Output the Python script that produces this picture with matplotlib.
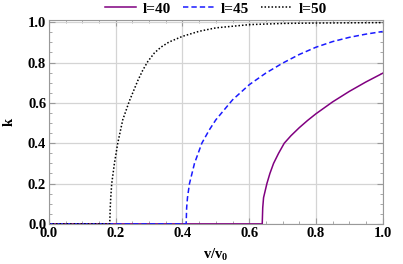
import numpy as np
import matplotlib
matplotlib.use("Agg")
import matplotlib.pyplot as plt
from matplotlib.ticker import MultipleLocator, FormatStrFormatter

# values
v_40 = [0, 0.639, 0.6405, 0.643, 0.653, 0.662, 0.673, 0.688, 0.705, 0.725, 0.75, 0.775,
        0.80, 0.85, 0.90, 0.95, 1.0]
k_40 = [0, 0, 0.08, 0.13, 0.20, 0.25, 0.30, 0.35, 0.40, 0.437, 0.477, 0.513,
        0.546, 0.605, 0.657, 0.704, 0.747]

v_45 = [0, 0.411, 0.4125, 0.415, 0.421, 0.436, 0.458, 0.48, 0.50, 0.55, 0.60, 0.65, 0.70,
        0.75, 0.80, 0.85, 0.90, 0.95, 1.0]
k_45 = [0, 0, 0.08, 0.13, 0.20, 0.30, 0.40, 0.465, 0.516, 0.615, 0.69, 0.748, 0.797,
        0.840, 0.876, 0.904, 0.925, 0.941, 0.954]

v_50 = [0, 0.182, 0.1835, 0.185, 0.188, 0.196, 0.206, 0.221, 0.241, 0.266, 0.281, 0.296,
        0.316, 0.336, 0.36, 0.40, 0.45, 0.50, 0.60, 0.70, 0.80, 0.90, 1.0]
k_50 = [0, 0, 0.08, 0.13, 0.20, 0.30, 0.40, 0.516, 0.61, 0.71, 0.762, 0.805,
        0.848, 0.877, 0.902, 0.93, 0.955, 0.972, 0.988, 0.994, 0.996, 0.997, 0.998]

labels = ["l=40", "l=45", "l=50"]

plt.rcParams["font.family"] = "Liberation Serif"
plt.rcParams["font.weight"] = "bold"
plt.rcParams["mathtext.fontset"] = "custom"
plt.rcParams["mathtext.rm"] = "Liberation Serif:bold"
plt.rcParams["mathtext.bf"] = "Liberation Serif:bold"
plt.rcParams["mathtext.it"] = "Liberation Serif:bold"

fig = plt.figure(figsize=(4.03, 2.64), dpi=100)
ax = fig.add_axes([0.1216, 0.152, 0.828, 0.773])

ax.plot(v_40, k_40, color="#800080", lw=1.1, ls="-", label=labels[0])
ax.plot(v_45, k_45, color="#1a1aff", lw=1.1, ls=(0, (3.5, 2)), label=labels[1])
ax.plot(v_50, k_50, color="black", lw=1.1, ls=(0, (1, 1.3)), label=labels[2])

ax.set_xlim(0, 1)
ax.set_ylim(0, 1.012)
ax.xaxis.set_major_locator(MultipleLocator(0.2))
ax.yaxis.set_major_locator(MultipleLocator(0.2))
ax.xaxis.set_minor_locator(MultipleLocator(0.05))
ax.yaxis.set_minor_locator(MultipleLocator(0.05))
ax.xaxis.set_major_formatter(FormatStrFormatter("%.1f"))
ax.yaxis.set_major_formatter(FormatStrFormatter("%.1f"))
ax.tick_params(which="both", direction="in", top=True, right=True, color="#999999",
               labelsize=10.5, pad=2)
ax.tick_params(which="major", length=4)
ax.tick_params(which="minor", length=2)
ax.grid(True, which="major", color="#d4d4d4", lw=0.9)
for s in ax.spines.values():
    s.set_color("#999999")
for lbl in ax.get_xticklabels() + ax.get_yticklabels():
    lbl.set_fontweight("bold")

ax.set_xlabel(r"v/v$_\mathrm{0}$", fontsize=10.5, fontweight="bold", labelpad=5)
ax.set_ylabel("k", fontsize=10.5, fontweight="bold", labelpad=9)

ax.legend(loc="lower center", bbox_to_anchor=(0.5, 0.99), ncol=3, frameon=False,
          fontsize=11, handlelength=2.0, columnspacing=0.8, borderaxespad=0,
          handletextpad=0.45)

fig.savefig("out.png", dpi=100)
